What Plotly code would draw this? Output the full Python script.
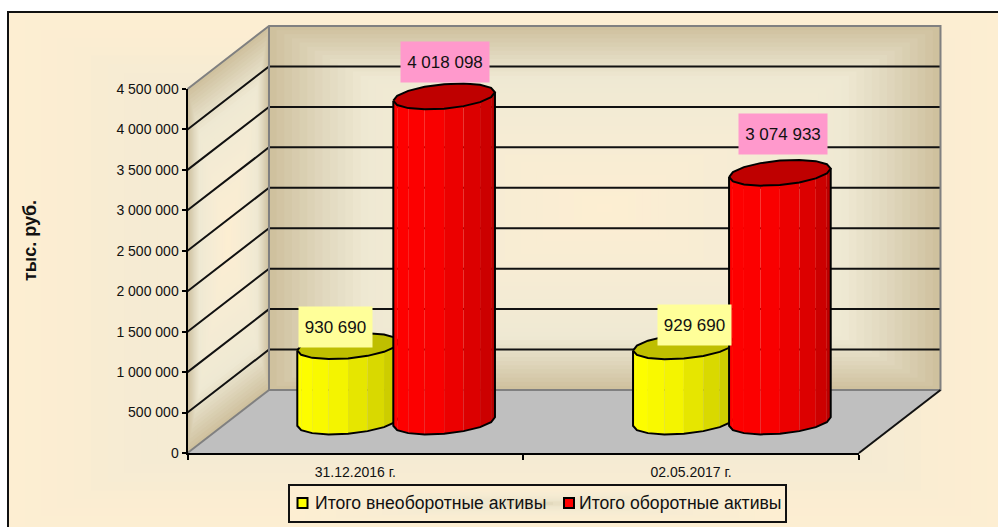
import math
import plotly.graph_objects as go

# ---- data ----
categories = ["31.12.2016 г.", "02.05.2017 г."]
series_names = ["Итого внеоборотные активы", "Итого оборотные активы"]
series_colors = ["#ffff00", "#ff0000"]
noncurrent = [930690, 929690]
current = [4018098, 3074933]
value_labels_noncurrent = ["930 690", "929 690"]
value_labels_current = ["4 018 098", "3 074 933"]
y_ticks = [0, 500000, 1000000, 1500000, 2000000, 2500000, 3000000, 3500000, 4000000, 4500000]
y_tick_text = ["0", "500 000", "1 000 000", "1 500 000", "2 000 000", "2 500 000",
               "3 000 000", "3 500 000", "4 000 000", "4 500 000"]
axis_title = "тыс. руб."

# ---- layout constants ----
W, H = 998, 527
PX_L, PX_R, PX_B, PX_T = 187.5, 859.0, 453.0, 89.0
V_MAX = 4500000.0
CAT_PX = (PX_R - PX_L) / 2
VAL_PX = (PX_B - PX_T) / V_MAX
DX = 81.5 / CAT_PX          # depth shift, category units
DY = 63.0 / VAL_PX          # depth shift, value units
FONT = "Liberation Sans"
INK = "#111111"


def proj(c, d, v):
    """Oblique 3-D projection into the data space of the axes."""
    return c + d * DX, v + d * DY


def lerp_hex(stops, t):
    t = max(0.0, min(1.0, t))
    for (t0, c0), (t1, c1) in zip(stops, stops[1:]):
        if t <= t1:
            f = (t - t0) / (t1 - t0) if t1 > t0 else 0
            a = [int(c0[i:i + 2], 16) for i in (1, 3, 5)]
            b = [int(c1[i:i + 2], 16) for i in (1, 3, 5)]
            return "#%02x%02x%02x" % tuple(round(p + (q - p) * f) for p, q in zip(a, b))
    return stops[-1][1]


WALL = [(0, "#fdeed2"), (0.4, "#f6ecd4"), (0.72, "#efe9d3"), (0.86, "#dfd6bc"), (1, "#cfc19e")]
FRAME = [(0, "#f5ebd3"), (0.75, "#f5ebd3"), (0.9, "#fbedd2"), (1, "#fdeed2")]
LEGEND = [(0, "#ddd3b6"), (0.2, "#eee6cd"), (0.5, "#f6ecd3"), (1, "#fdeed2")]

shapes = []


def px_rect_rings(x0, y0, x1, y1, stops, n):
    cx, cy, hw, hh = (x0 + x1) / 2, (y0 + y1) / 2, (x1 - x0) / 2, (y1 - y0) / 2
    for i in range(n):
        t = 1 - i / n
        shapes.append(dict(type="rect", xref="paper", yref="paper", layer="below",
                           x0=(cx - hw * t) / W, x1=(cx + hw * t) / W,
                           y0=1 - (cy - hh * t) / H, y1=1 - (cy + hh * t) / H,
                           line=dict(width=0), fillcolor=lerp_hex(stops, t)))


def poly_shape(pts, fill):
    path = "M" + "L".join(f"{x:.5f},{y:.1f}" for x, y in pts) + "Z"
    shapes.append(dict(type="path", xref="x", yref="y", layer="below", path=path,
                       fillcolor=fill, line=dict(width=0)))


# chart frame (its right and bottom borders fall outside the picture)
px_rect_rings(8, 12, 1004, 534, FRAME, 30)
shapes.append(dict(type="rect", xref="paper", yref="paper", layer="below",
                   x0=8 / W, x1=1004 / W, y0=1 - 12 / H, y1=1 - 534 / H,
                   line=dict(color=INK, width=2), fillcolor="rgba(0,0,0,0)"))

# back wall
N_RINGS = 44
for i in range(N_RINGS):
    t = 1 - i / N_RINGS
    c0, c1 = 1 - t, 1 + t
    v0, v1 = V_MAX * (1 - t) / 2, V_MAX * (1 + t) / 2
    poly_shape([proj(c0, 1, v0), proj(c1, 1, v0), proj(c1, 1, v1), proj(c0, 1, v1)], lerp_hex(WALL, t))
# left wall
for i in range(N_RINGS):
    t = 1 - i / N_RINGS
    d0, d1 = (1 - t) / 2, (1 + t) / 2
    v0, v1 = V_MAX * (1 - t) / 2, V_MAX * (1 + t) / 2
    poly_shape([proj(0, d0, v0), proj(0, d1, v0), proj(0, d1, v1), proj(0, d0, v1)], lerp_hex(WALL, t))
# floor
poly_shape([proj(0, 0, 0), proj(2, 0, 0), proj(2, 1, 0), proj(0, 1, 0)], "#bfbfbf")

# legend box
px_rect_rings(289, 485, 786, 522, LEGEND, 16)
shapes.append(dict(type="rect", xref="paper", yref="paper", layer="below",
                   x0=289 / W, x1=786 / W, y0=1 - 485 / H, y1=1 - 522 / H,
                   line=dict(color=INK, width=2), fillcolor="rgba(0,0,0,0)"))

fig = go.Figure()

# grid lines on both walls
gx, gy = [], []
for v in y_ticks[1:-1]:
    for p in (proj(0, 0, v), proj(0, 1, v), proj(2, 1, v)):
        gx.append(p[0]); gy.append(p[1])
    gx.append(None); gy.append(None)
fig.add_trace(go.Scatter(x=gx, y=gy, mode="lines", line=dict(color=INK, width=2),
                         showlegend=False, hoverinfo="skip"))

# wall edges
edges_grey = [[proj(0, 0, V_MAX), proj(0, 1, V_MAX), proj(2, 1, V_MAX), proj(2, 1, 0),
               proj(0, 1, 0), proj(0, 1, V_MAX)], [proj(0, 0, 0), proj(0, 1, 0)]]
ex, ey = [], []
for run in edges_grey:
    ex += [p[0] for p in run] + [None]
    ey += [p[1] for p in run] + [None]
fig.add_trace(go.Scatter(x=ex, y=ey, mode="lines", line=dict(color="#808080", width=2),
                         showlegend=False, hoverinfo="skip"))
fig.add_trace(go.Scatter(x=[proj(2, 0, 0)[0], proj(2, 1, 0)[0]], y=[proj(2, 0, 0)[1], proj(2, 1, 0)[1]],
                         mode="lines", line=dict(color=INK, width=2),
                         showlegend=False, hoverinfo="skip"))

# cylinders
BAR_OFF = 0.143
RX = 48.0 / CAT_PX
RZ = 0.205
N_SIDES = 16
SIL = math.atan2(RZ * DX, RX)    # angle of the right silhouette
YELLOW = [(0, "#ffff00"), (0.4, "#f4f400"), (0.65, "#e2e200"), (0.85, "#d4d400"), (1, "#c4c400")]
RED = [(0, "#ff0000"), (0.45, "#f80000"), (0.7, "#e40000"), (0.9, "#d00000"), (1, "#b80000")]


def add_cylinder(cat_center, value, shades, top_color):
    def rim(a, v):
        return proj(cat_center + RX * math.cos(a), 0.5 + RZ * math.sin(a), v)

    start = math.pi + SIL
    angles = [start + math.pi * i / (N_SIDES // 2) for i in range(N_SIDES // 2 + 1)]
    x_first, x_last = rim(angles[0], 0)[0], rim(angles[-1], 0)[0]
    for a0, a1 in zip(angles, angles[1:]):
        pts = [rim(a0, 0), rim(a1, 0), rim(a1, value), rim(a0, value), rim(a0, 0)]
        mid = (rim((a0 + a1) / 2, 0)[0] - x_first) / (x_last - x_first)
        fig.add_trace(go.Scatter(x=[p[0] for p in pts], y=[p[1] for p in pts], mode="lines",
                                 fill="toself", fillcolor=lerp_hex(shades, mid), line=dict(width=0),
                                 showlegend=False, hoverinfo="skip"))
    ring = [rim(start + 2 * math.pi * i / N_SIDES, value) for i in range(N_SIDES + 1)]
    fig.add_trace(go.Scatter(x=[p[0] for p in ring], y=[p[1] for p in ring], mode="lines", fill="toself",
                             fillcolor=top_color, line=dict(color="#000000", width=2),
                             showlegend=False, hoverinfo="skip"))
    out = [rim(angles[0], value)] + [rim(a, 0) for a in angles] + [rim(angles[-1], value)]
    fig.add_trace(go.Scatter(x=[p[0] for p in out], y=[p[1] for p in out], mode="lines",
                             line=dict(color="#000000", width=2),
                             showlegend=False, hoverinfo="skip"))


for i in range(len(categories)):
    add_cylinder(i + 0.5 - BAR_OFF, noncurrent[i], YELLOW, "#bfbf00")
    add_cylinder(i + 0.5 + BAR_OFF, current[i], RED, "#bf0000")

# the trace that brings up the visible tick axes
fig.add_trace(go.Scatter(x=[None], y=[None], xaxis="x2", yaxis="y2", mode="lines",
                         showlegend=False, hoverinfo="skip"))

# data labels
annotations = []
label_spec = [
    (noncurrent, value_labels_noncurrent, -BAR_OFF, "#ffff99", 73, [(-13, 19), (10.5, 21)]),
    (current, value_labels_current, BAR_OFF, "#ff99cc", 88, [(1, 34), (3.5, 39)]),
]
for vals, texts, off, bg, w, shifts in label_spec:
    for i, (v, txt, (sx, sy)) in enumerate(zip(vals, texts, shifts)):
        x, y = proj(i + 0.5 + off, 0.5, v)
        annotations.append(dict(x=x, y=y, xref="x", yref="y", text=txt, showarrow=False,
                                xshift=sx, yshift=sy, width=w, height=40, bgcolor=bg,
                                borderpad=0, align="center", valign="middle",
                                xanchor="center", yanchor="middle",
                                font=dict(family=FONT, size=17, color=INK)))
annotations.append(dict(x=30 / W, y=1 - 241 / H, xref="paper", yref="paper", text=f"<b>{axis_title}</b>",
                        xanchor="center", yanchor="middle", showarrow=False, textangle=-90,
                        font=dict(family=FONT, size=18, color=INK)))

# legend entries
legend_swatch_px = [296.5, 563]
legend_text_px = [314, 578]
for name, col, sx, tx in zip(series_names, series_colors, legend_swatch_px, legend_text_px):
    shapes.append(dict(type="rect", xref="paper", yref="paper", layer="above",
                       x0=(sx + 1) / W, x1=(sx + 11) / W, y0=1 - 498 / H, y1=1 - 508 / H,
                       fillcolor=col, line=dict(color="#000000", width=2)))
    annotations.append(dict(x=tx / W, y=1 - 503 / H, xref="paper", yref="paper",
                            xanchor="left", yanchor="middle",
                            text=name, showarrow=False, borderpad=0,
                            font=dict(family=FONT, size=17.6, color=INK)))

# the page-wide axes carry the 3-D marks; their scale equals that of the tick axes
fig.update_layout(
    width=W, height=H, margin=dict(l=0, r=0, t=0, b=0, autoexpand=False),
    paper_bgcolor="#ffffff", plot_bgcolor="rgba(0,0,0,0)",
    font=dict(family=FONT, size=14, color=INK),
    shapes=shapes, annotations=annotations, showlegend=False,
    xaxis=dict(domain=[0, 1], range=[-PX_L / CAT_PX, (W - PX_L) / CAT_PX], visible=False),
    yaxis=dict(domain=[0, 1], range=[-(H - PX_B) / VAL_PX, PX_B / VAL_PX], visible=False),
    xaxis2=dict(domain=[PX_L / W, PX_R / W], anchor="y2", range=[0, 2], tickmode="array", tickvals=[0.5, 1.5],
                ticktext=categories, ticks="", showgrid=False, zeroline=False, showline=True,
                linecolor="#000000", linewidth=2, tickfont=dict(family=FONT, size=14),
                minor=dict(tickmode="array", tickvals=[0, 1, 2], ticks="outside", ticklen=5,
                           tickwidth=2, tickcolor="#000000", showgrid=False), ticklabelstandoff=5),
    yaxis2=dict(domain=[1 - PX_B / H, 1 - PX_T / H], anchor="x2", range=[0, V_MAX], tickmode="array",
                tickvals=y_ticks, ticktext=y_tick_text, ticks="outside", ticklen=4, tickwidth=2,
                tickcolor="#000000", showgrid=False, zeroline=False, showline=True, linecolor="#000000",
                linewidth=2, tickfont=dict(family=FONT, size=14)),
)

fig.write_html("out.html", config=dict(displayModeBar=False),
               post_script="document.body.style.margin='0';document.body.style.overflow='hidden';")
